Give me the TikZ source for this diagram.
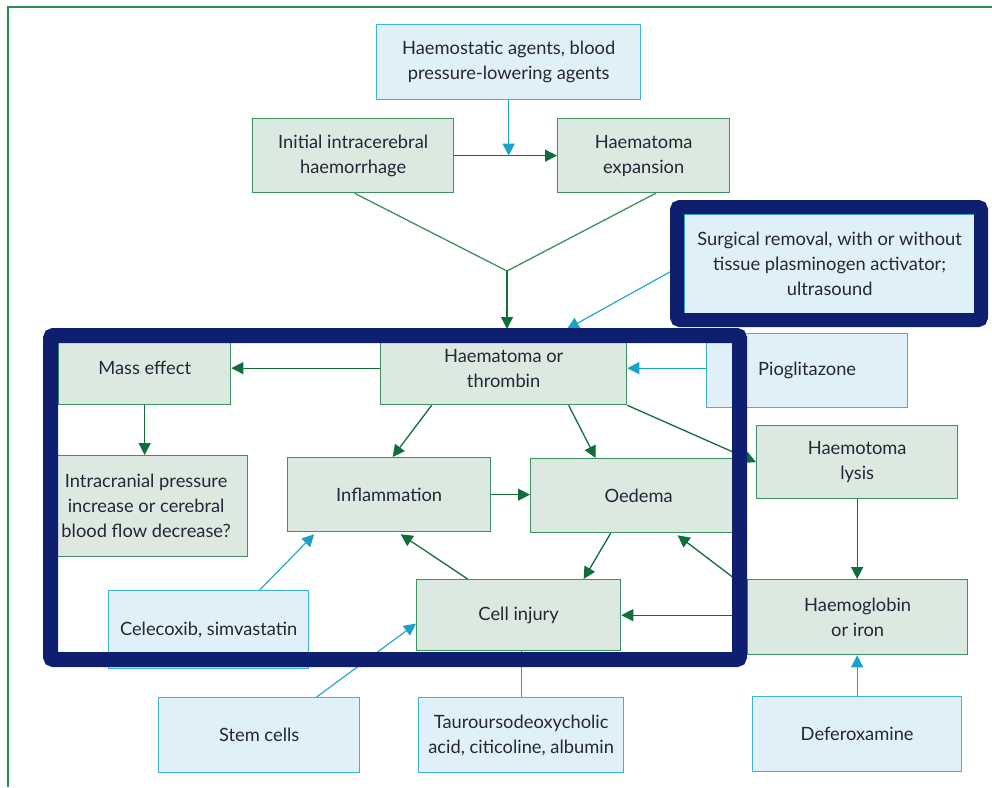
\documentclass[tikz,border=0pt]{standalone}
\usepackage{fontspec}
\setmainfont{Lato}
\usetikzlibrary{arrows.meta,calc}
\definecolor{gfill}{HTML}{DCE9E1}
\definecolor{gline}{HTML}{3C915F}
\definecolor{garrow}{HTML}{0F6E3A}
\definecolor{bfill}{HTML}{E0F0F8}
\definecolor{bline}{HTML}{3CB4D7}
\definecolor{barrow}{HTML}{17A2CA}
\definecolor{navy}{HTML}{0E1F70}
\definecolor{txt}{HTML}{262636}
\definecolor{outer}{HTML}{2A8C52}
\tikzset{
  boxbase/.style={line width=1.3pt, inner sep=0pt, align=center, anchor=north west,
    font=\fontsize{18.3}{25}\selectfont, text=txt},
  gbox/.style={boxbase, draw=gline, fill=gfill},
  bbox/.style={boxbase, draw=bline, fill=bfill},
  garr/.style={draw=garrow, line width=1.3pt, -{Triangle[length=12pt,width=12pt]}},
  gline/.style={draw=gline, line width=1.3pt},
  barr/.style={draw=barrow, line width=1.1pt, -{Triangle[length=12pt,width=12pt]}},
  bplain/.style={draw=barrow, line width=1.1pt},
  navyframe/.style={draw=navy, rounded corners=3pt},
}
\begin{document}
\begin{tikzpicture}[x=1pt,y=-1pt]
\useasboundingbox (0,0) rectangle (992,787);
% outer frame
\draw[outer, line width=1.2pt] (8,787) -- (8,7) -- (992,7);

% top boxes
\node[bbox, minimum width=264pt, minimum height=75pt] (hs) at (376,24) {Haemostatic agents, blood\\pressure-lowering agents};
\node[gbox, minimum width=201pt, minimum height=74pt] (init) at (252,118) {Initial intracerebral\\haemorrhage};
\node[gbox, minimum width=172pt, minimum height=74pt] (exp) at (557,118) {Haematoma\\expansion};
\node[bbox, minimum width=290pt, minimum height=99pt] (surg) at (684,214) {Surgical removal, with or without\\tissue plasminogen activator;\\ultrasound};

% middle
\node[gbox, minimum width=172pt, minimum height=73pt] (mass) at (58,331) {Mass effect};
\node[gbox, minimum width=246pt, minimum height=73pt] (hem) at (380,331) {Haematoma or\\thrombin};
\node[bbox, minimum width=201pt, minimum height=74pt] (pio) at (706,333) {Pioglitazone};
\node[gbox, minimum width=203pt, minimum height=101pt] (intr) at (44,455) {Intracranial pressure\\increase or cerebral\\blood flow decrease?};
\node[gbox, minimum width=203pt, minimum height=74pt] (infl) at (287,457) {Inflammation};
\node[gbox, minimum width=216pt, minimum height=74pt] (oed) at (530,458) {Oedema};
\node[gbox, minimum width=201pt, minimum height=73pt] (lys) at (756,425) {Haemotoma\\lysis};
\node[gbox, minimum width=220pt, minimum height=75pt] (hgb) at (747,579) {Haemoglobin\\or iron};
\node[gbox, minimum width=204pt, minimum height=71pt] (cell) at (416,579) {Cell injury};
\node[bbox, minimum width=200pt, minimum height=78pt] (cel) at (108,590) {Celecoxib, simvastatin};

% bottom
\node[bbox, minimum width=201pt, minimum height=75pt] (stem) at (158,697) {Stem cells};
\node[bbox, minimum width=205pt, minimum height=75pt] (tau) at (418,697) {Tauroursodeoxycholic\\acid, citicoline, albumin};
\node[bbox, minimum width=209pt, minimum height=75pt] (def) at (752,696) {Deferoxamine};

% coordinates
\coordinate (vj) at (507,271);
\coordinate (hemtop) at (507,329);
\coordinate (surgtip) at (567,329);

% connectors top
\draw[garr] (init.east) -- (exp.west);
\draw[barr] (hs.south) -- (hs.south |- init.east);
\draw[gline] ($(init.south)+(1.5,0)$) -- (vj) -- ($(exp.south)+(12,0)$);
\draw[garr] (vj) -- (hemtop);
\draw[barr] (surg.west) -- (surgtip);

% connectors middle
\draw[garr] (hem.west |- mass.east) -- (mass.east);
\draw[barr] (pio.west |- hem.east) -- (hem.east);
\draw[garr] (mass.south) -- (mass.south |- intr.north);
\draw[garr] ($(hem.south)+(-72,0)$) -- ($(infl.north)+(3.5,0)$);
\draw[garr] ($(hem.south)+(65,0)$) -- ($(oed.north)+(-43,0)$);
\draw[garr] (hem.south east) -- (lys.west);
\draw[garr] (infl.east) -- (infl.east -| oed.west);
\draw[garr] (lys.south) -- (lys.south |- hgb.north);
\draw[garr] ($(oed.south)+(-28,0)$) -- ($(cell.north)+(65,0)$);
\draw[garr] ($(hgb.north west)+(0,9)$) -- ($(oed.south)+(39,2)$);
\draw[garr] (hgb.west |- cell.east) -- (cell.east);
\draw[garr] ($(cell.north)+(-51,0)$) -- ($(infl.south)+(11.5,2)$);
\draw[barr] ($(cel.north)+(51,0)$) -- ($(infl.south)+(-75,2)$);
\draw[barr] ($(stem.north)+(57.5,0)$) -- ($(cell.west)+(0,8.5)$);
\draw[bplain] (tau.north) -- (tau.north |- cell.south);
\draw[barr] (def.north) -- (def.north |- hgb.south);

% navy highlight frames
\draw[navyframe, line width=14pt] (677,207) rectangle (981,320);
\draw[navyframe, line width=15pt] (50.5,335.5) rectangle (739.5,659.5);
\end{tikzpicture}
\end{document}
